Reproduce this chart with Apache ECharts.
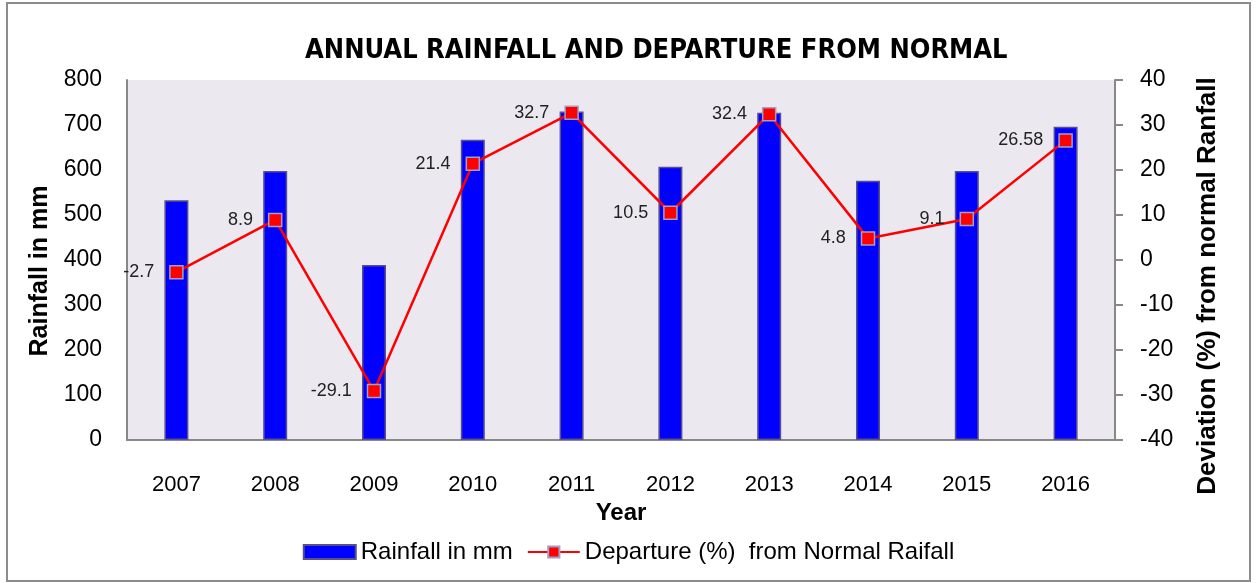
<!DOCTYPE html>
<html>
<head>
<meta charset="utf-8">
<script src="https://cdn.jsdelivr.net/npm/echarts@6/dist/echarts.min.js"></script>
<style>
  html, body { margin: 0; padding: 0; background: #fff; }
  #chart { width: 1257px; height: 583px; }
</style>
</head>
<body>
<div id="chart"></div>
<script>
// values
const years = ['2007', '2008', '2009', '2010', '2011', '2012', '2013', '2014', '2015', '2016']
const rainfall = [533, 598, 389, 667, 730, 607, 727, 576, 598, 696]
const departure = [-2.7, 8.9, -29.1, 21.4, 32.7, 10.5, 32.4, 4.8, 9.1, 26.58]
const departureLabels = ['-2.7', '8.9', '-29.1', '21.4', '32.7', '10.5', '32.4', '4.8', '9.1', '26.58']

const font = 'Liberation Sans, Arial, sans-serif'
const narrow = 'Liberation Sans Narrow, DejaVu Sans Condensed, sans-serif'

const chart = echarts.init(document.getElementById('chart'))

chart.setOption({
  animation: false,
  backgroundColor: '#fff',
  graphic: [
    {
      type: 'rect',
      shape: { x: 7, y: 3, width: 1243, height: 578 },
      style: { fill: 'none', stroke: '#8c8c8c', lineWidth: 2 },
      silent: true,
    },
  ],
  title: {
    text: 'ANNUAL RAINFALL AND DEPARTURE FROM NORMAL',
    left: 300,
    top: 32,
    textStyle: { fontFamily: narrow, fontWeight: 'bold', fontSize: 27, color: '#000' },
  },
  legend: {
    bottom: 14,
    left: 'center',
    itemWidth: 52,
    itemHeight: 14,
    itemGap: 14,
    textStyle: { fontFamily: font, fontSize: 24, color: '#000' },
    data: [
      { name: 'Rainfall in mm', icon: 'rect' },
      'Departure (%)  from Normal Raifall',
    ],
  },
  grid: {
    left: 127,
    right: 142,
    top: 80,
    bottom: 143,
    show: true,
    backgroundColor: '#ebe8ef',
    borderWidth: 0,
  },
  xAxis: {
    type: 'category',
    data: years,
    name: 'Year',
    nameLocation: 'middle',
    nameGap: 60,
    nameTextStyle: { fontFamily: font, fontWeight: 'bold', fontSize: 24, color: '#000' },
    axisLine: { lineStyle: { color: '#888', width: 2 } },
    axisTick: { show: false },
    axisLabel: { fontFamily: font, fontSize: 22, color: '#000', margin: 34 },
  },
  yAxis: [
    {
      type: 'value',
      min: 0,
      max: 800,
      interval: 100,
      name: 'Rainfall in mm',
      nameLocation: 'middle',
      nameGap: 68,
      nameTextStyle: { fontFamily: font, fontWeight: 'bold', fontSize: 25, color: '#000', padding: [0, 22, 0, 0] },
      axisLine: { show: true, lineStyle: { color: '#888', width: 2 } },
      axisTick: { show: false },
      splitLine: { show: false },
      axisLabel: { fontFamily: font, fontSize: 23, color: '#000', margin: 25 },
    },
    {
      type: 'value',
      min: -40,
      max: 40,
      interval: 10,
      position: 'right',
      name: 'Deviation (%) from normal Ranfall',
      nameLocation: 'middle',
      nameGap: 80,
      nameTextStyle: { fontFamily: font, fontWeight: 'bold', fontSize: 26, color: '#000', padding: [0, 52, 0, 0] },
      axisLine: { show: true, lineStyle: { color: '#888', width: 2 } },
      axisTick: { show: true, length: 8, lineStyle: { color: '#888', width: 2 } },
      splitLine: { show: false },
      axisLabel: { fontFamily: font, fontSize: 23, color: '#000', margin: 25 },
    },
  ],
  series: [
    {
      name: 'Rainfall in mm',
      type: 'bar',
      data: rainfall,
      barWidth: 24,
      itemStyle: { color: '#0000ff', borderColor: '#5a4f8c', borderWidth: 1.5 },
    },
    {
      name: 'Departure (%)  from Normal Raifall',
      type: 'line',
      yAxisIndex: 1,
      data: departure,
      symbol: 'rect',
      symbolSize: 13,
      lineStyle: { color: '#ff0000', width: 2.5 },
      itemStyle: { color: '#ff0000', borderColor: '#a49ec4', borderWidth: 1.5 },
      label: {
        show: true,
        position: 'left',
        distance: 15,
        fontFamily: font,
        fontSize: 18,
        color: '#222',
        formatter: (p) => departureLabels[p.dataIndex],
      },
    },
  ],
})
</script>
</body>
</html>
